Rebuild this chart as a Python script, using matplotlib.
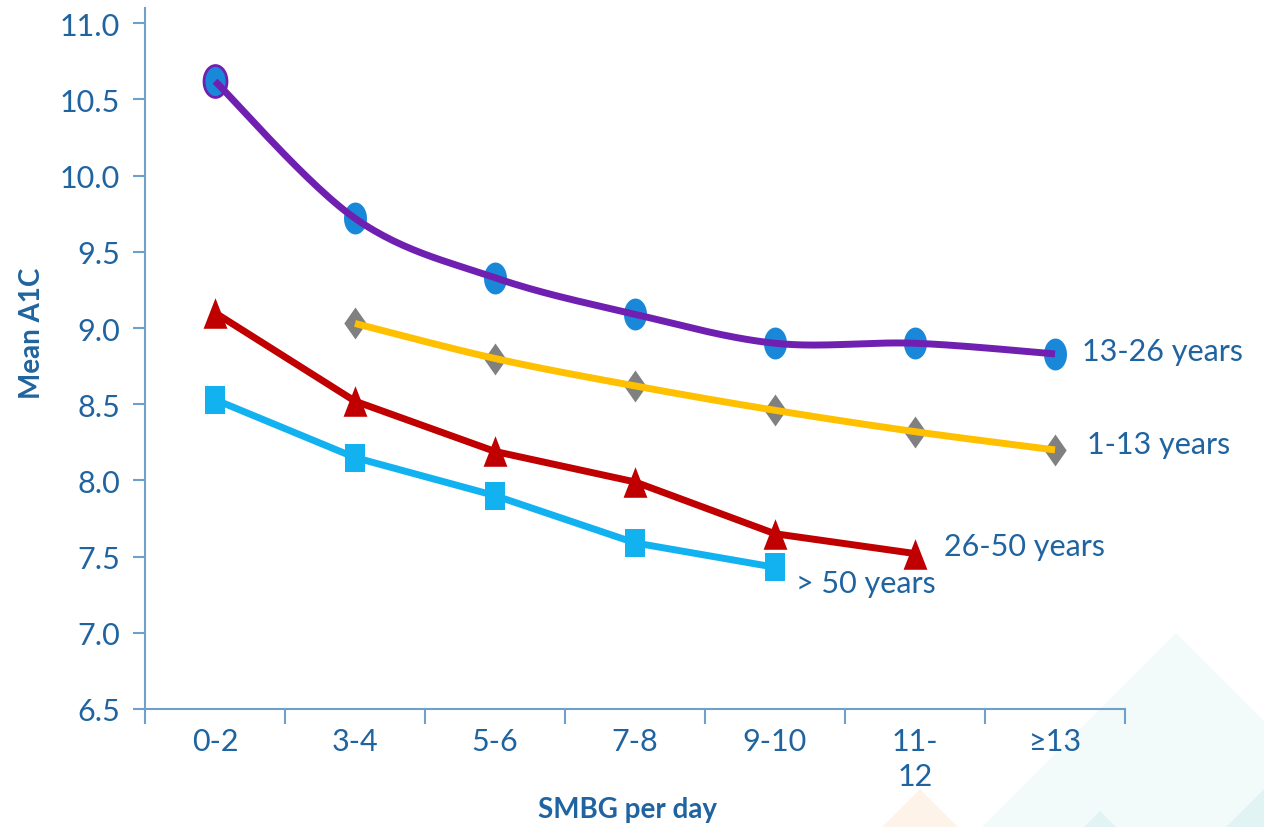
import numpy as np
import matplotlib
matplotlib.use('Agg')
import matplotlib.pyplot as plt
from matplotlib.path import Path
from matplotlib.patches import Polygon

plt.rcParams['font.family'] = ['Lato', 'DejaVu Sans']

# A1C by testing frequency, per age group
smbg = ['0-2', '3-4', '5-6', '7-8', '9-10', '11-\n12', '\u226513']
a1c_13_26 = [10.62, 9.72, 9.33, 9.09, 8.90, 8.90, 8.83]
a1c_1_13 = [9.03, 8.80, 8.62, 8.46, 8.32, 8.20]       # starts at 3-4
a1c_26_50 = [9.10, 8.52, 8.19, 7.99, 7.65, 7.52]
a1c_50_up = [8.53, 8.15, 7.90, 7.59, 7.43]
yticks = [6.5, 7.0, 7.5, 8.0, 8.5, 9.0, 9.5, 10.0, 10.5, 11.0]

txt_col = '#1f64a0'
axis_col = '#6f9fcb'


def smooth(x, y, n=30):
    # catmull-rom curve through the points (like excel's smoothed line)
    x = np.asarray(x, float); y = np.asarray(y, float)
    px = np.r_[x[0], x, x[-1]]; py = np.r_[y[0], y, y[-1]]
    xs, ys = [], []
    t = np.linspace(0, 1, n)
    for i in range(1, len(px) - 2):
        p0, p1, p2, p3 = [np.array([px[j], py[j]]) for j in range(i - 1, i + 3)]
        c1 = p1 + (p2 - p0) / 6
        c2 = p2 - (p3 - p1) / 6
        pts = ((1 - t) ** 3)[:, None] * p1 + (3 * (1 - t) ** 2 * t)[:, None] * c1 \
            + (3 * (1 - t) * t ** 2)[:, None] * c2 + (t ** 3)[:, None] * p2
        xs.extend(pts[:, 0]); ys.extend(pts[:, 1])
    return xs, ys


def shape(verts):
    return Path(verts + [verts[0]], [Path.MOVETO] + [Path.LINETO] * (len(verts) - 1) + [Path.CLOSEPOLY])

th = np.linspace(0, 2 * np.pi, 40)[:-1]
ellipse = shape([(0.72 * np.cos(a), np.sin(a)) for a in th])
diamond = shape([(0, 1), (0.7, 0), (0, -1), (-0.7, 0)])
triangle = shape([(0, 1), (0.78, -1), (-0.78, -1)])
rect = shape([(-0.72, -1), (0.72, -1), (0.72, 1), (-0.72, 1)])

fig = plt.figure(figsize=(12.64, 8.28), dpi=100)

# faint background shapes in the lower right
def fig_poly(pts, color):
    p = Polygon([(x / 1264, 1 - y / 828) for x, y in pts], closed=True,
                transform=fig.transFigure, facecolor=color, edgecolor='none', zorder=0)
    fig.patches.append(p)

fig_poly([(1176, 634), (1400, 858), (1176, 1082), (952, 858)], '#f2fafa')
fig_poly([(1100, 812), (1116, 828), (1084, 828)], '#e2f3f4')
fig_poly([(1264, 790), (1264, 828), (1226, 828)], '#e2f3f4')
fig_poly([(920, 790), (958, 828), (882, 828)], '#fdf3e9')

ax = fig.add_axes([145 / 1264, 1 - 710 / 828, 980 / 1264, 701 / 828])
ax.set_facecolor('none')
ax.set_zorder(2)

xi = np.arange(len(smbg))

# 13-26 years
sx, sy = smooth(xi, a1c_13_26)
ax.plot(xi, a1c_13_26, linestyle='none', marker=ellipse, markersize=23,
        color='#1a88d8', markeredgewidth=0, zorder=3)
ax.plot(xi[:1], a1c_13_26[:1], linestyle='none', marker=ellipse, markersize=23,
        markerfacecolor='#1a88d8', markeredgecolor='#7020b0', markeredgewidth=2, zorder=3)
ax.plot(sx, sy, color='#7020b0', lw=5, solid_capstyle='butt', zorder=4)

# 1-13 years
x1 = xi[1:]
sx, sy = smooth(x1, a1c_1_13)
ax.plot(x1, a1c_1_13, linestyle='none', marker=diamond, markersize=23,
        color='#808080', markeredgewidth=0, zorder=3)
ax.plot(sx, sy, color='#ffc000', lw=5, solid_capstyle='butt', zorder=4)

# 26-50 years
ax.plot(xi[:len(a1c_26_50)], a1c_26_50, color='#c00000', lw=5, marker=triangle,
        markersize=22, markeredgewidth=0, zorder=3)

# > 50 years
ax.plot(xi[:len(a1c_50_up)], a1c_50_up, color='#12b2f0', lw=5, marker=rect,
        markersize=20, markeredgewidth=0, zorder=3)

lab = dict(color=txt_col, fontsize=22, va='center', ha='left')
ax.text(6.19, a1c_13_26[-1] + 0.02, '13-26 years', **lab)
ax.text(6.23, a1c_1_13[-1] + 0.04, '1-13 years', **lab)
ax.text(5.21, a1c_26_50[-1] + 0.05, '26-50 years', **lab)
ax.text(4.15, a1c_50_up[-1] - 0.1, '> 50 years', **lab)

ax.set_xlim(-0.5, 6.5)
ax.set_ylim(6.5, 11.1)
ax.set_yticks(yticks)
ax.set_yticklabels([f'{v:.1f}' for v in yticks])
ax.set_xticks(np.arange(-0.5, 7, 1))
ax.set_xticklabels([])
ax.set_xticks(xi, minor=True)
ax.set_xticklabels(smbg, minor=True)

for s in ['top', 'right']:
    ax.spines[s].set_visible(False)
for s in ['left', 'bottom']:
    ax.spines[s].set_color(axis_col)
    ax.spines[s].set_linewidth(1.5)

ax.tick_params(axis='y', which='major', direction='out', length=9, width=1.5,
               color=axis_col, labelcolor=txt_col, labelsize=22, pad=9)
ax.tick_params(axis='x', which='major', direction='out', length=11, width=1.5,
               color=axis_col)
ax.tick_params(axis='x', which='minor', length=0, labelcolor=txt_col,
               labelsize=22, pad=13)
for t in ax.get_xticklabels(minor=True):
    t.set_verticalalignment('top')
    t.set_linespacing(1.3)

ax.set_ylabel('Mean A1C', color=txt_col, fontsize=20, fontweight='bold')
ax.yaxis.set_label_coords(-0.115, (710 - 333) / 701)
ax.set_xlabel('SMBG per day', color=txt_col, fontsize=20, fontweight='bold')
ax.xaxis.set_label_coords((628 - 145) / 980, -(810 - 710) / 701)
ax.xaxis.label.set_va('center')
ax.yaxis.label.set_va('center')

fig.savefig('out.png', dpi=100)
